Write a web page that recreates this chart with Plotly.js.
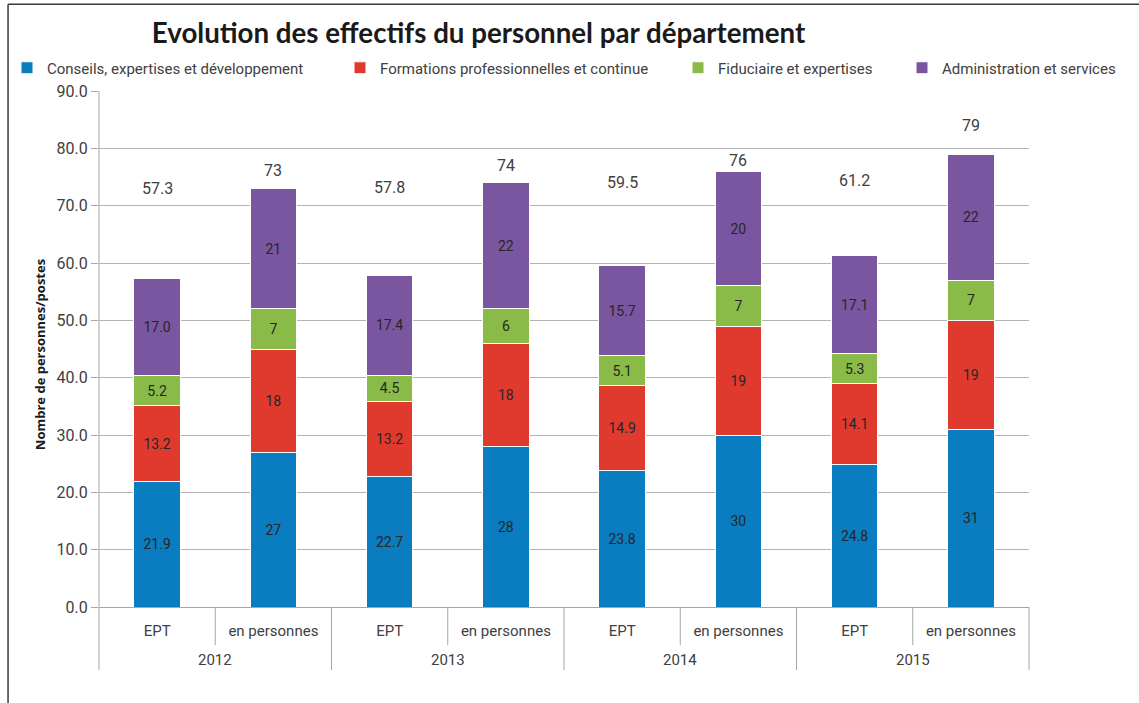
<!DOCTYPE html>
<html>
<head>
<meta charset="utf-8">
<script src="https://cdn.plot.ly/plotly-3.0.1.min.js"></script>
<style>html,body{margin:0;padding:0;background:#fff;}#chart{width:1139px;height:703px;}</style>
</head>
<body>
<div id="chart"></div>
<script>
const years = ['2012','2012','2013','2013','2014','2014','2015','2015'];
const types = ['EPT','en personnes','EPT','en personnes','EPT','en personnes','EPT','en personnes'];
const conseils = [21.9, 27, 22.7, 28, 23.8, 30, 24.8, 31];
const formations = [13.2, 18, 13.2, 18, 14.9, 19, 14.1, 19];
const fiduciaire = [5.2, 7, 4.5, 6, 5.1, 7, 5.3, 7];
const administration = [17.0, 21, 17.4, 22, 15.7, 20, 17.1, 22];
const totals = [57.3, 73, 57.8, 74, 59.5, 76, 61.2, 79];
const seriesNames = ['Conseils, expertises et développement','Formations professionnelles et continue','Fiduciaire et expertises','Administration et services'];
const yTickVals = [0,10,20,30,40,50,60,70,80,90];
const chartTitle = 'Evolution des effectifs du personnel par département';
const yTitle = 'Nombre de personnes/postes';

const colors = ['#0a7cc0','#e03a2f','#8aba47','#7a56a0'];
const FONT = 'Roboto, sans-serif';
const fmt = (v,i) => types[i] === 'EPT' ? v.toFixed(1) : String(v);
const keys = years.map((y,i) => y + ' ' + types[i]);
const allSeries = [conseils, formations, fiduciaire, administration];
const legendNames = ['legend2','legend3','legend4','legend5'];

const traces = allSeries.map((vals, k) => ({
  type: 'bar',
  name: seriesNames[k],
  x: keys,
  y: vals,
  text: vals.map(fmt),
  textposition: 'inside',
  insidetextanchor: 'middle',
  constraintext: 'none',
  textfont: {family: FONT, size: 14, color: '#262626'},
  marker: {color: colors[k], line: {color: '#ffffff', width: 1}},
  legend: legendNames[k],
  hoverinfo: 'y'
}));

const n = types.length;
const shapes = [];
for (let i = 0; i <= n; i++) {
  const outer = (i === 0 || i === n || years[i] !== years[i-1]);
  shapes.push({type:'line', xref:'paper', yref:'paper', x0: i/n, x1: i/n, y0: 0, y1: outer ? -0.122 : -0.074,
    line:{color:'#a6a6a6', width:1}});
}
shapes.push({type:'line', xref:'paper', yref:'paper', x0:0, x1:0, y0:0, y1:1, line:{color:'#a6a6a6', width:1}});
// outer frame
shapes.push({type:'line', xref:'paper', yref:'paper', x0:-0.0978, x1:-0.0978, y0:-0.3, y1:1.168, line:{color:'#3a3a3a', width:1.5}});
shapes.push({type:'line', xref:'paper', yref:'paper', x0:-0.0978, x1:1.2, y0:1.168, y1:1.168, line:{color:'#3a3a3a', width:1.5}});

const labelShift = [90, 18, 88, 17, 83, 11, 76, 29];
const annotations = totals.map((t, i) => ({
  xref:'x', yref:'y', x:keys[i], y:t, yshift: labelShift[i], yanchor:'middle',
  text: fmt(t, i), showarrow:false,
  font:{family:FONT, size:16, color:'#404040'}
}));
// year group labels
const uniqYears = [...new Set(years)];
uniqYears.forEach(y => {
  const idx = years.map((v,i)=> v===y ? i : -1).filter(i => i>=0);
  const c = (idx[0] + idx[idx.length-1] + 1) / 2 / n;
  annotations.push({xref:'paper', yref:'paper', x:c, y:-0.1027, xanchor:'center', yanchor:'middle',
    text:y, showarrow:false, font:{family:FONT, size:15, color:'#404040'}});
});
// y axis title
annotations.push({xref:'paper', yref:'paper', x:(40-99)/930, y:0.49, xanchor:'center', yanchor:'middle',
  textangle:-90, text:yTitle, showarrow:false, font:{family:'Open Sans, sans-serif', size:13, color:'#1a1a1a', weight:'bold'}});

const legendPx = [7, 340, 678, 902];
const legends = {};
legendNames.forEach((ln, k) => {
  legends[ln] = {x:(legendPx[k]-99)/930, xanchor:'left', y:1.0446, yanchor:'middle', orientation:'h',
    font:{family:FONT, size:15, color:'#404040'}, bgcolor:'rgba(0,0,0,0)'};
});

const layout = Object.assign({
  width:1139, height:703,
  margin:{l:99, r:110, t:91, b:96, autoexpand:false},
  paper_bgcolor:'#ffffff', plot_bgcolor:'#ffffff',
  barmode:'stack', bargap:0.6, showlegend:true,
  title:{text:chartTitle, font:{family:'Lato, sans-serif', size:27.7, color:'#1a1a1a', weight:'bold'},
    xref:'paper', x:(478.5-99)/930, xanchor:'center', yref:'container', y:1-33/703, yanchor:'middle'},
  xaxis:{type:'category', tickvals:keys, ticktext:types, showgrid:false, showline:true, linecolor:'#a6a6a6', linewidth:1,
    ticks:'outside', ticklen:10, tickcolor:'rgba(0,0,0,0)',
    tickfont:{family:FONT, size:15, color:'#404040'}, fixedrange:true},
  yaxis:{range:[0,90], tickvals:yTickVals, tickformat:'.1f', showgrid:true, gridcolor:'#b3b3b3', gridwidth:1,
    zeroline:false, showline:false, ticks:'outside', ticklen:7, tickcolor:'#a6a6a6',
    tickfont:{family:FONT, size:16, color:'#404040'}},
  shapes: shapes,
  annotations: annotations
}, legends);

Plotly.newPlot('chart', traces, layout, {displayModeBar:false, staticPlot:true});
</script>
</body>
</html>
